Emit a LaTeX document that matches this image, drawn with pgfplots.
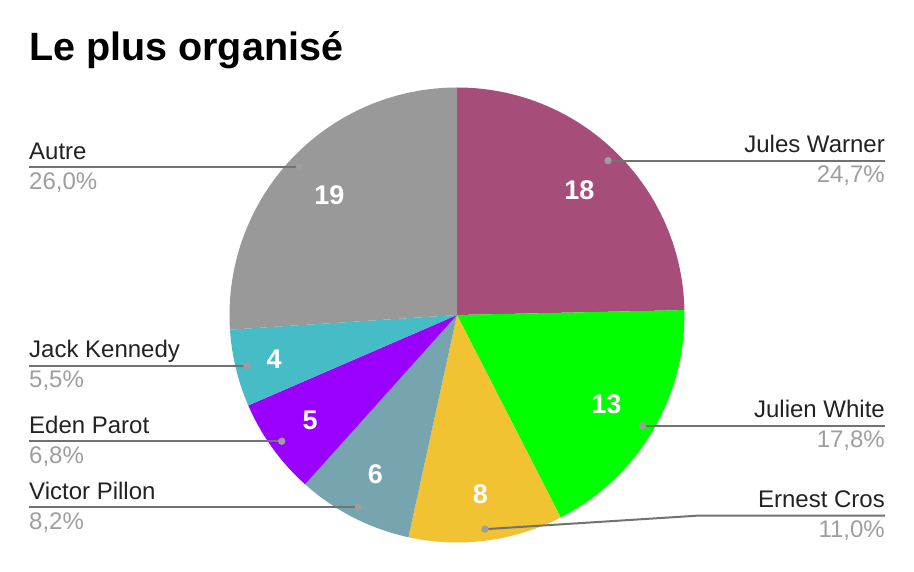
\documentclass[border=0pt]{standalone}
\usepackage{pgfplots}
\pgfplotsset{compat=1.18}
\usepackage{pgfplotstable}
\usepackage{fontspec}
\setmainfont{Liberation Sans}
\definecolor{cJW}{HTML}{A64D79}
\definecolor{cJWh}{HTML}{00FF00}
\definecolor{cEC}{HTML}{F1C232}
\definecolor{cVP}{HTML}{76A5AF}
\definecolor{cEP}{HTML}{9900FF}
\definecolor{cJK}{HTML}{46BDC6}
\definecolor{cAu}{HTML}{999999}
\definecolor{linec}{HTML}{727272}
\definecolor{dotc}{HTML}{9E9E9E}
\definecolor{pctc}{HTML}{9E9E9E}
\definecolor{namec}{HTML}{222222}

\pgfplotstableread[col sep=semicolon]{
name;value;pct;col;side;ex;ly;bend;lr
Jules Warner;18;24,7;cJW;1;0;0;0;175
Julien White;13;17,8;cJWh;1;0;0;0;174
Ernest Cros;8;11,0;cEC;1;697;56.3;1;181
Victor Pillon;6;8,2;cVP;-1;0;0;0;179
Eden Parot;5;6,8;cEP;-1;0;0;0;181
Jack Kennedy;4;5,5;cJK;-1;0;0;0;188
Autre;19;26,0;cAu;-1;0;0;0;175
}\piedata

\begin{document}
\begin{tikzpicture}
\useasboundingbox (0,0) rectangle (914bp,572bp);
\begin{axis}[
  at={(0,0)}, anchor=south west,
  scale only axis, width=914bp, height=572bp,
  xmin=0, xmax=914, ymin=0, ymax=572,
  hide axis, clip=false]
\pgfplotsextra{
  \gdef\total{0}
  \foreach \i in {0,...,6}{
    \pgfplotstablegetelem{\i}{value}\of\piedata
    \pgfmathparse{\total+\pgfplotsretval}\xdef\total{\pgfmathresult}
  }
  % wedges
  \xdef\angA{90}
  \foreach \i in {0,...,6}{
    \pgfplotstablegetelem{\i}{value}\of\piedata \let\v\pgfplotsretval
    \pgfplotstablegetelem{\i}{col}\of\piedata \edef\cl{\pgfplotsretval}
    \pgfmathsetmacro\angB{\angA-360*\v/\total}
    \fill[\cl] (axis cs:457,257) -- ++(\angA:227.5bp) arc[start angle=\angA,end angle=\angB,radius=227.5bp] -- cycle;
    \xdef\angA{\angB}
  }
  % labels
  \xdef\angA{90}
  \foreach \i in {0,...,6}{
    \pgfplotstablegetelem{\i}{value}\of\piedata \let\v\pgfplotsretval
    \pgfplotstablegetelem{\i}{name}\of\piedata \let\nm\pgfplotsretval
    \pgfplotstablegetelem{\i}{pct}\of\piedata \let\pc\pgfplotsretval
    \pgfplotstablegetelem{\i}{side}\of\piedata \edef\sd{\pgfplotsretval}
    \pgfplotstablegetelem{\i}{ex}\of\piedata \edef\exx{\pgfplotsretval}
    \pgfplotstablegetelem{\i}{ly}\of\piedata \edef\lyy{\pgfplotsretval}
    \pgfplotstablegetelem{\i}{bend}\of\piedata \edef\bd{\pgfplotsretval}
    \pgfplotstablegetelem{\i}{lr}\of\piedata \edef\lr{\pgfplotsretval}
    \pgfmathsetmacro\angB{\angA-360*\v/\total}
    \pgfmathsetmacro\mid{(\angA+\angB)/2}
    \pgfmathsetmacro\nx{457+\lr*cos(\mid)}
    \pgfmathsetmacro\ny{257+\lr*sin(\mid)}
    \pgfmathsetmacro\dx{457+216*cos(\mid)}
    \pgfmathsetmacro\dy{257+216*sin(\mid)}
    \ifnum\bd=1 \else \edef\exx{\dx}\edef\lyy{\dy}\fi
    \pgfmathsetmacro\ty{\lyy+8}
    \pgfmathsetmacro\py{\lyy-22}
    \node[text=white, font=\bfseries\fontsize{27bp}{30bp}\selectfont] at (axis cs:\nx,\ny) {\v};
    \ifnum\sd=1
      \draw[linec, line width=2bp] (axis cs:\dx,\dy) -- (axis cs:\exx,\lyy) -- (axis cs:885,\lyy);
      \node[anchor=base east, inner sep=0pt, text=namec, font=\fontsize{24bp}{28bp}\selectfont] at (axis cs:885,\ty) {\nm};
      \node[anchor=base east, inner sep=0pt, text=pctc, font=\fontsize{24bp}{28bp}\selectfont] at (axis cs:885,\py) {\pc\%};
    \else
      \draw[linec, line width=2bp] (axis cs:\dx,\dy) -- (axis cs:\exx,\lyy) -- (axis cs:29,\lyy);
      \node[anchor=base west, inner sep=0pt, text=namec, font=\fontsize{24bp}{28bp}\selectfont] at (axis cs:29,\ty) {\nm};
      \node[anchor=base west, inner sep=0pt, text=pctc, font=\fontsize{24bp}{28bp}\selectfont] at (axis cs:29,\py) {\pc\%};
    \fi
    \fill[dotc] (axis cs:\dx,\dy) circle[radius=3.7bp];
    \xdef\angA{\angB}
  }
  \node[anchor=base west, inner sep=0pt, font=\bfseries\fontsize{39.5bp}{44bp}\selectfont] at (axis cs:29,511) {Le plus organisé};
}
\end{axis}
\end{tikzpicture}
\end{document}
